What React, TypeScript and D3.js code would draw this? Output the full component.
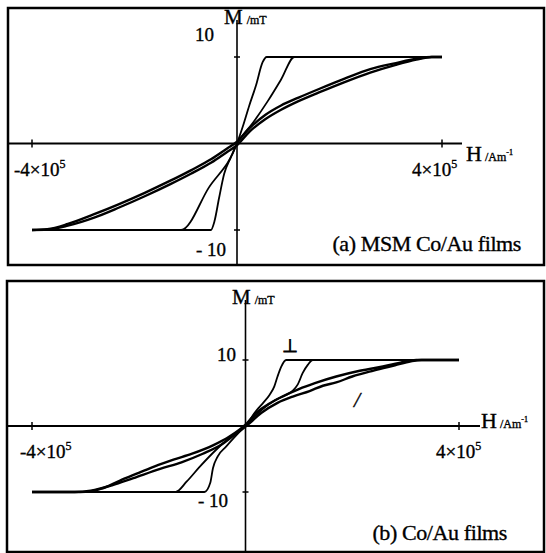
import React from "react";
import * as d3 from "d3";

// H in units of 10^5 A/m, M in mT
const hTicks = [-4, 4];
const mTicks = [-10, 10];
const hTickLabels = ["-4×10", "4×10"];
const mTickLabels = ["- 10", "10"];

// (a) MSM Co/Au films
const aPerpDesc: [number, number][] = [
  [4, 10], [0.58, 10], [0.5, 9.4], [0.37, 6.7], [0.24, 4.4], [0.11, 1.9], [0, 0],
  [-0.55, -5.1], [-1.09, -10], [-4, -10],
];
const aPerpAsc: [number, number][] = [
  [-4, -10], [-0.51, -10], [-0.44, -9.0], [-0.35, -6.3], [-0.25, -3.5], [-0.12, -1.6], [0, 0],
  [0.3, 2.3], [0.6, 4.9], [0.86, 7.4], [1.12, 10], [4, 10],
];
const aParDesc: [number, number][] = [
  [4, 10], [3.8, 10], [3.5, 9.8], [3.1, 9.3], [2.6, 8.6], [2.1, 7.5], [1.6, 6.3], [1.2, 5.3],
  [0.86, 4.4], [0.55, 3.3], [0.25, 1.8], [0, 0.2], [-0.2, -0.6], [-0.5, -1.8], [-0.9, -3.1],
  [-1.3, -4.3], [-1.8, -5.7], [-2.3, -7.0], [-2.8, -8.2], [-3.3, -9.3], [-3.7, -9.9], [-4, -10],
];
const aParAsc: [number, number][] = [
  [-4, -10], [-3.7, -9.95], [-3.3, -9.5], [-2.8, -8.6], [-2.3, -7.4], [-1.8, -6.1], [-1.3, -4.7],
  [-0.9, -3.5], [-0.5, -2.2], [-0.2, -1.0], [0, -0.2], [0.25, 1.4], [0.55, 2.8], [0.86, 3.9],
  [1.2, 4.9], [1.6, 5.9], [2.1, 7.1], [2.6, 8.2], [3.1, 9.1], [3.5, 9.7], [3.8, 10], [4, 10],
];

// (b) Co/Au films
const bPerpDesc: [number, number][] = [
  [4, 10], [0.76, 10], [0.67, 9.0], [0.6, 7.5], [0.54, 6.0], [0.45, 4.7], [0.32, 3.4], [0.2, 2.3],
  [0, 0], [-0.3, -1.8], [-0.55, -3.6], [-0.86, -6.2], [-1.1, -8.4], [-1.31, -10], [-4, -10],
];
const bPerpAsc: [number, number][] = [
  [-4, -10], [-0.77, -10], [-0.66, -8.6], [-0.61, -6.4], [-0.52, -4.6], [-0.36, -3.1], [-0.17, -1.4],
  [0, 0], [0.3, 2.4], [0.55, 3.9], [0.76, 4.7], [0.88, 5.3], [0.98, 6.3], [1.07, 8.0], [1.17, 9.3],
  [1.26, 10], [4, 10],
];
const bParDesc: [number, number][] = [
  [4, 10], [3.2, 10], [2.9, 9.6], [2.5, 8.9], [2.1, 8.3], [1.7, 7.5], [1.3, 6.5], [1.0, 5.6],
  [0.7, 4.5], [0.45, 3.4], [0.2, 2.0], [0, 0.2], [-0.3, -1.6], [-0.6, -2.9], [-1.0, -4.2],
  [-1.35, -5.1], [-1.7, -6.1], [-2.0, -7.1], [-2.36, -8.3], [-2.7, -9.5], [-2.9, -9.9], [-3.1, -10],
  [-4, -10],
];
const bParAsc: [number, number][] = [
  [-4, -10], [-3.2, -10], [-2.9, -9.8], [-2.5, -9.0], [-2.1, -7.9], [-1.6, -6.5], [-1.2, -5.5],
  [-0.8, -4.2], [-0.45, -2.8], [-0.2, -1.3], [0, -0.1], [0.3, 2.0], [0.6, 3.5], [0.9, 4.5],
  [1.2, 5.3], [1.45, 6.1], [1.7, 6.6], [2.0, 7.5], [2.4, 8.4], [2.8, 9.2], [3.1, 9.8], [3.3, 10],
  [4, 10],
];

const serif = "Liberation Serif, DejaVu Serif, serif";

type PanelProps = {
  box: { x: number; y: number; w: number; h: number };
  xRange: [number, number];
  yRange: [number, number];
  perp: [number, number][][];
  par: [number, number][][];
  caption: string;
  hAxisEnd: number;
  vAxisTop: number;
  hLabel: { x: number; y: number };
  mLabel: { x: number; y: number };
  tickLabelY: number;
  tickLabelX: [number, number];
  mLabelPos: { x: number; y: number }[];
  captionPos: { x: number; y: number };
  extra?: React.ReactNode;
};

const txt = { fontFamily: serif, fill: "#000", stroke: "#000", strokeWidth: 0.35 };

const Panel: React.FC<PanelProps> = (p) => {
  const x = d3.scaleLinear().domain([-4, 4]).range(p.xRange);
  const y = d3.scaleLinear().domain([-10, 10]).range(p.yRange);
  // every branch is single-valued in H, so draw it left to right
  const line = (d: [number, number][]) =>
    d3
      .line<[number, number]>()
      .x((v) => x(v[0]))
      .y((v) => y(v[1]))
      .curve(d3.curveMonotoneX)(d3.sort(d, (v) => v[0])) ?? "";
  const x0 = x(0);
  const y0 = y(0);
  const bottom = p.box.y + p.box.h;

  return (
    <g>
      <rect x={p.box.x} y={p.box.y} width={p.box.w} height={p.box.h} fill="none" stroke="#000" strokeWidth={2.5} />
      <line x1={p.box.x} x2={p.hAxisEnd} y1={y0} y2={y0} stroke="#000" strokeWidth={2} />
      <line x1={x0} x2={x0} y1={p.vAxisTop} y2={bottom} stroke="#000" strokeWidth={1.6} />
      {hTicks.map((t) => (
        <line key={"h" + t} x1={x(t)} x2={x(t)} y1={y0 - 4} y2={y0 + 4} stroke="#000" strokeWidth={1.5} />
      ))}
      {mTicks.map((t) => (
        <line key={"m" + t} x1={x0 - 3} x2={x0 + 3} y1={y(t)} y2={y(t)} stroke="#000" strokeWidth={1.5} />
      ))}
      <g style={txt} fontSize={19}>
        {hTickLabels.map((l, i) => (
          <text key={l} x={p.tickLabelX[i]} y={p.tickLabelY}>
            {l}
            <tspan fontSize={12} dy={-8}>5</tspan>
          </text>
        ))}
        {mTickLabels.map((l, i) => (
          <text key={l} x={p.mLabelPos[i].x} y={p.mLabelPos[i].y} textAnchor="end">
            {l}
          </text>
        ))}
      </g>
      <text x={p.hLabel.x} y={p.hLabel.y} style={txt} fontSize={22}>
        H
        <tspan fontSize={12} dx={3}>/Am</tspan>
        <tspan fontSize={8} dy={-6}>-1</tspan>
      </text>
      <text x={p.mLabel.x} y={p.mLabel.y} style={txt} fontSize={21}>
        M
        <tspan fontSize={12} dx={4}>/mT</tspan>
      </text>
      {p.par.map((d, i) => (
        <path key={"par" + i} d={line(d)} fill="none" stroke="#000" strokeWidth={2.4} strokeLinejoin="round" />
      ))}
      {p.perp.map((d, i) => (
        <path key={"perp" + i} d={line(d)} fill="none" stroke="#000" strokeWidth={1.8} strokeLinejoin="round" />
      ))}
      <text x={p.captionPos.x} y={p.captionPos.y} textAnchor="end" style={txt} fontSize={22} letterSpacing={-0.4}>
        {p.caption}
      </text>
      {p.extra}
    </g>
  );
};

export default function App() {
  return (
    <svg width={546} height={553} style={{ position: "absolute", left: 0, top: 0, background: "#fff" }}>
      <rect width={546} height={553} fill="#fff" />
      <Panel
        box={{ x: 8, y: 8, w: 536, h: 257 }}
        xRange={[32, 442]}
        yRange={[230, 57]}
        perp={[aPerpDesc, aPerpAsc]}
        par={[aParDesc, aParAsc]}
        caption="(a) MSM Co/Au films"
        hAxisEnd={462}
        vAxisTop={20}
        hLabel={{ x: 466, y: 161 }}
        mLabel={{ x: 224, y: 24 }}
        tickLabelY={176}
        tickLabelX={[14, 412]}
        mLabelPos={[{ x: 226, y: 256 }, { x: 214, y: 41 }]}
        captionPos={{ x: 521, y: 251 }}
      />
      <Panel
        box={{ x: 7, y: 281, w: 537, h: 271 }}
        xRange={[32, 459]}
        yRange={[492, 360]}
        perp={[bPerpDesc, bPerpAsc]}
        par={[bParDesc, bParAsc]}
        caption="(b) Co/Au films"
        hAxisEnd={480}
        vAxisTop={300}
        hLabel={{ x: 481, y: 428 }}
        mLabel={{ x: 232, y: 304 }}
        tickLabelY={458}
        tickLabelX={[20, 436]}
        mLabelPos={[{ x: 228, y: 507 }, { x: 236, y: 361 }]}
        captionPos={{ x: 507, y: 540 }}
        extra={
          <g>
            <text x={290} y={352} textAnchor="middle" fontFamily="DejaVu Sans, sans-serif" fontSize={18}
              style={{ fill: "#000", stroke: "#000", strokeWidth: 0.8 }}>⊥</text>
            <text x={357} y={407} textAnchor="middle" style={txt} fontStyle="italic" fontSize={22}>/</text>
          </g>
        }
      />
    </svg>
  );
}
